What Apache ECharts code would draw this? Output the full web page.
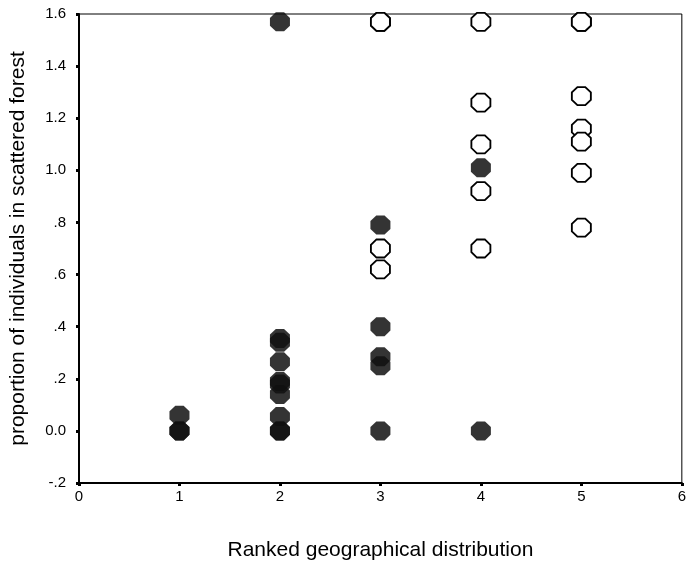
<!DOCTYPE html>
<html>
<head>
<meta charset="utf-8">
<script src="https://cdn.jsdelivr.net/npm/echarts@6/dist/echarts.min.js"></script>
<style>
  html, body { margin: 0; padding: 0; background: #fff; }
  #chart { width: 689px; height: 566px; }
</style>
</head>
<body>
<div id="chart"></div>
<script>
// filled (hatched) markers
const filledX = [1, 1, 1, 2, 2, 2, 2, 2, 2, 2, 2, 2, 2, 3, 3, 3, 3, 3, 4, 4];
const filledY = [0.06, 0, 0, 1.57, 0.355, 0.34, 0.265, 0.19, 0.18, 0.14, 0.055, 0, 0, 0.79, 0.40, 0.285, 0.25, 0, 1.01, 0];
// open markers
const openX = [3, 3, 3, 3, 4, 4, 4, 4, 4, 5, 5, 5, 5, 5, 5, 5];
const openY = [1.57, 1.57, 0.70, 0.62, 1.57, 1.26, 1.10, 0.92, 0.70, 1.57, 1.57, 1.285, 1.16, 1.11, 0.99, 0.78];

const xTicks = [0, 1, 2, 3, 4, 5, 6];
const yTicks = [-0.2, 0, 0.2, 0.4, 0.6, 0.8, 1.0, 1.2, 1.4, 1.6];

const octagon = 'path://M29.3,0 L70.7,0 L100,29.3 L100,70.7 L70.7,100 L29.3,100 L0,70.7 L0,29.3 Z';
const font = 'Liberation Sans, Arial, sans-serif';

// SPSS style labels: .8, 0.0, -.2
const fmt = v => {
    let s = (Math.round(v * 10) / 10).toFixed(1);
    if (s === '0.0' || s === '-0.0') return '0.0';
    return s.replace(/^(-?)0\./, '$1.');
};

let chart = echarts.init(document.getElementById('chart'));
chart.setOption({
    animation: false,
    grid: {
        left: 78,
        right: 5,
        top: 14,
        bottom: 83,
        show: true,
        borderColor: '#000',
        borderWidth: 1
    },
    xAxis: {
        type: 'value',
        min: xTicks[0],
        max: xTicks[xTicks.length - 1],
        interval: 1,
        name: 'Ranked geographical distribution',
        nameLocation: 'middle',
        nameGap: 57,
        nameTextStyle: { fontFamily: font, fontSize: 21, color: '#000' },
        axisLine: { onZero: false, lineStyle: { color: '#000', width: 2 } },
        axisTick: { length: 3, lineStyle: { color: '#000', width: 3 } },
        axisLabel: { fontFamily: font, fontSize: 15, color: '#000', margin: 6 },
        splitLine: { show: false }
    },
    yAxis: {
        type: 'value',
        min: yTicks[0],
        max: yTicks[yTicks.length - 1],
        interval: 0.2,
        name: 'proportion of individuals in scattered forest',
        nameLocation: 'middle',
        nameGap: 50,
        nameTextStyle: { fontFamily: font, fontSize: 21, color: '#000' },
        axisLine: { onZero: false, lineStyle: { color: '#000', width: 2 } },
        axisTick: { length: 3, lineStyle: { color: '#000', width: 3 } },
        axisLabel: { fontFamily: font, fontSize: 15, color: '#000', margin: 13, formatter: fmt },
        splitLine: { show: false }
    },
    series: [
        {
            name: 'open',
            type: 'scatter',
            symbol: octagon,
            symbolSize: [19, 18],
            data: openX.map((x, i) => [x, openY[i]]),
            itemStyle: { color: '#fff', borderColor: '#000', borderWidth: 1.8, opacity: 1 }
        },
        {
            name: 'filled',
            type: 'scatter',
            symbol: octagon,
            symbolSize: [20, 19],
            data: filledX.map((x, i) => [x, filledY[i]]),
            itemStyle: { color: '#111', opacity: 0.85 }
        }
    ]
});
</script>
</body>
</html>
